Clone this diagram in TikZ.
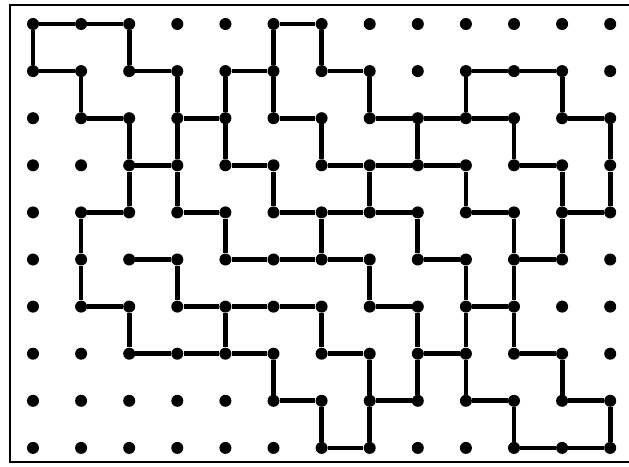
\documentclass[tikz,border=0pt]{standalone}

\begin{document}
\begin{tikzpicture}[
    x=0.025cm,
    y=-0.025cm,
    dot/.style={
        circle,
        fill=black,
        inner sep=0pt,
        minimum size=0.3cm
    },
    wall/.style={
        line width=3.4pt,
        black
    },
    frame/.style={
        line width=1.8pt,
        black
    }
]

\useasboundingbox (0,0) rectangle (629,466);

% frame (open on the right)
\draw[frame] (629,5) -- (10,5) -- (10,462) -- (629,462);

% grid of dots
\foreach \c in {0,...,12}{
    \foreach \r in {0,...,9}{
        \node[dot] (p\c-\r) at ({33+48.1*\c},{24+47.1*\r}) {};
    }
}

% outer walls
\draw[wall] (p1-2) -- (p1-1) -- (p0-1) -- (p0-0) -- (p1-0) -- (p2-0) -- (p2-1) -- (p3-1) -- (p3-2) -- (p3-3) -- (p3-4) -- (p4-4) -- (p4-5) -- (p5-5) -- (p6-5) -- (p7-5) -- (p7-6) -- (p8-6) -- (p8-7) -- (p8-8) -- (p7-8) -- (p7-9) -- (p6-9) -- (p6-8) -- (p5-8) -- (p5-7) -- (p4-7) -- (p3-7) -- (p2-7) -- (p2-6) -- (p1-6) -- (p1-5) -- (p1-4) -- (p2-4) -- (p2-3) -- (p2-2) -- (p1-2);

\draw[wall] (p4-3) -- (p4-2) -- (p4-1) -- (p5-1) -- (p5-0) -- (p6-0) -- (p6-1) -- (p7-1) -- (p7-2) -- (p8-2) -- (p9-2) -- (p9-1) -- (p10-1) -- (p11-1) -- (p11-2) -- (p12-2) -- (p12-3) -- (p12-4) -- (p11-4) -- (p11-5) -- (p10-5) -- (p10-6) -- (p10-7) -- (p11-7) -- (p11-8) -- (p12-8) -- (p12-9) -- (p11-9) -- (p10-9) -- (p10-8) -- (p9-8) -- (p9-7) -- (p9-6) -- (p9-5) -- (p8-5) -- (p8-4) -- (p7-4) -- (p6-4) -- (p5-4) -- (p5-3) -- (p4-3);

% inner walls
\draw[wall] (p3-2) -- (p4-2);
\draw[wall] (p2-3) -- (p3-3);
\draw[wall] (p5-1) -- (p5-2) -- (p6-2) -- (p6-3) -- (p7-3) -- (p8-3) -- (p9-3) -- (p9-4) -- (p10-4) -- (p10-5);
\draw[wall] (p8-2) -- (p8-3);
\draw[wall] (p7-3) -- (p7-4);
\draw[wall] (p9-2) -- (p10-2) -- (p10-3) -- (p11-3) -- (p11-4);
\draw[wall] (p2-5) -- (p3-5) -- (p3-6) -- (p4-6) -- (p5-6) -- (p6-6) -- (p6-7) -- (p7-7) -- (p7-8);
\draw[wall] (p6-4) -- (p6-5);
\draw[wall] (p4-6) -- (p4-7);
\draw[wall] (p8-7) -- (p9-7);
\draw[wall] (p9-6) -- (p10-6);

\end{tikzpicture}
\end{document}
